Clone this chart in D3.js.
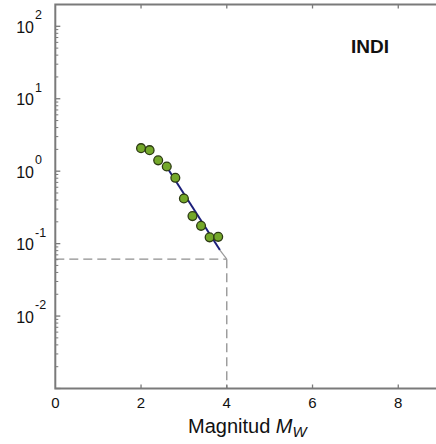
<!DOCTYPE html>
<html>
<head>
<meta charset="utf-8">
<script src="https://cdn.jsdelivr.net/npm/d3@7"></script>
<style>
  html, body { margin: 0; padding: 0; background: #fff; }
  svg { display: block; }
  text { font-family: "Liberation Sans", Arial, sans-serif; fill: #111; }
</style>
</head>
<body>
<svg id="chart" width="436" height="444"></svg>
<script>
// Observed annual rate of exceedance vs. moment magnitude
const magnitudes = [2.0, 2.2, 2.4, 2.6, 2.8, 3.0, 3.2, 3.4, 3.6, 3.8];
const rates      = [2.08, 1.95, 1.41, 1.16, 0.81, 0.42, 0.24, 0.176, 0.122, 0.124];

// Fitted recurrence relation (drawn part and its continuation to Mmax)
const fitMag   = [2.6, 3.84];
const fitRate  = [1.14, 0.0815];
const tailMag  = [3.84, 4.0];
const tailRate = [0.0815, 0.061];

// Reference level at the maximum magnitude
const maxMag  = 4.0;
const maxRate = 0.061;

const xTicks = [0, 2, 4, 6, 8];
const yTickExp = [-2, -1, 0, 1, 2];
const regionName = "INDI";

const svg = d3.select("#chart");
const plotLeft = 55.3, plotRight = 484, plotTop = 4.5, plotBottom = 388.5;

const x = d3.scaleLinear().domain([0, 10]).range([plotLeft, plotRight]);
const y = d3.scaleLog().domain([0.001, 200]).range([plotBottom, plotTop]);

const axisColor = "#7a7a7a";

// Reference dashed lines
svg.append("line")
  .attr("x1", x(0)).attr("x2", x(maxMag))
  .attr("y1", y(maxRate)).attr("y2", y(maxRate))
  .attr("stroke", "#8f8f8f").attr("stroke-width", 1.3)
  .attr("stroke-dasharray", "9,5");
svg.append("line")
  .attr("x1", x(maxMag)).attr("x2", x(maxMag))
  .attr("y1", y(maxRate)).attr("y2", plotBottom)
  .attr("stroke", "#8f8f8f").attr("stroke-width", 1.3)
  .attr("stroke-dasharray", "9,5");

// Fitted line
const line = d3.line().x(d => x(d[0])).y(d => y(d[1]));
svg.append("path")
  .datum(tailMag.map((m, i) => [m, tailRate[i]]))
  .attr("d", line).attr("fill", "none")
  .attr("stroke", "#9a9a9a").attr("stroke-width", 1.2);
svg.append("path")
  .datum(fitMag.map((m, i) => [m, fitRate[i]]))
  .attr("d", line).attr("fill", "none")
  .attr("stroke", "#1c1f7a").attr("stroke-width", 2);

// Data points
svg.append("g").selectAll("circle")
  .data(magnitudes.map((m, i) => [m, rates[i]]))
  .join("circle")
  .attr("cx", d => x(d[0])).attr("cy", d => y(d[1]))
  .attr("r", 4.4)
  .attr("fill", "#74a82a")
  .attr("stroke", "#2c3a12").attr("stroke-width", 1.3);

// Frame: left, bottom and top borders
const frame = svg.append("g").attr("stroke", axisColor).attr("stroke-width", 2).attr("fill", "none");
frame.append("path").attr("d", `M${plotRight},${plotTop}H${plotLeft}V${plotBottom}H${plotRight}`);

// X ticks (inward, bottom and top)
xTicks.forEach(t => {
  if (t === 0) return;
  frame.append("line").attr("x1", x(t)).attr("x2", x(t)).attr("y1", plotBottom).attr("y2", plotBottom - 4).attr("stroke-width", 1.3);
  frame.append("line").attr("x1", x(t)).attr("x2", x(t)).attr("y1", plotTop).attr("y2", plotTop + 4).attr("stroke-width", 1.3);
});
svg.append("g").selectAll("text")
  .data(xTicks).join("text")
  .attr("x", d => x(d)).attr("y", 407.5)
  .attr("text-anchor", "middle")
  .attr("font-size", 15)
  .text(d => d);

// Y ticks: decades with minor ticks
const yAxisTicks = svg.append("g").attr("stroke", axisColor);
for (let e = -3; e <= 2; e++) {
  for (let k = 1; k <= 9; k++) {
    const v = k * Math.pow(10, e);
    if (v > 200) continue;
    const major = k === 1;
    yAxisTicks.append("line")
      .attr("x1", plotLeft).attr("x2", plotLeft + (major ? 5 : 3))
      .attr("y1", y(v)).attr("y2", y(v))
      .attr("stroke-width", major ? 1.3 : 1);
  }
}
const yl = svg.append("g");
yTickExp.forEach(e => {
  const ty = y(Math.pow(10, e));
  yl.append("text").attr("x", 34).attr("y", ty + 6.5)
    .attr("text-anchor", "end").attr("font-size", 16).text("10");
  yl.append("text").attr("x", 35).attr("y", ty - 7)
    .attr("font-size", 12.5).text(String(e));
});

// Region name
svg.append("text")
  .attr("x", 370).attr("y", 53)
  .attr("text-anchor", "middle")
  .attr("font-size", 19).attr("font-weight", "bold")
  .text(regionName);

// X axis title: Magnitud M_W
const xt = svg.append("text").attr("x", 188).attr("y", 433).attr("font-size", 20);
xt.append("tspan").text("Magnitud ");
xt.append("tspan").attr("font-style", "italic").text("M");
xt.append("tspan").attr("font-style", "italic").attr("font-size", 15).attr("dy", 4).text("W");
</script>
</body>
</html>
